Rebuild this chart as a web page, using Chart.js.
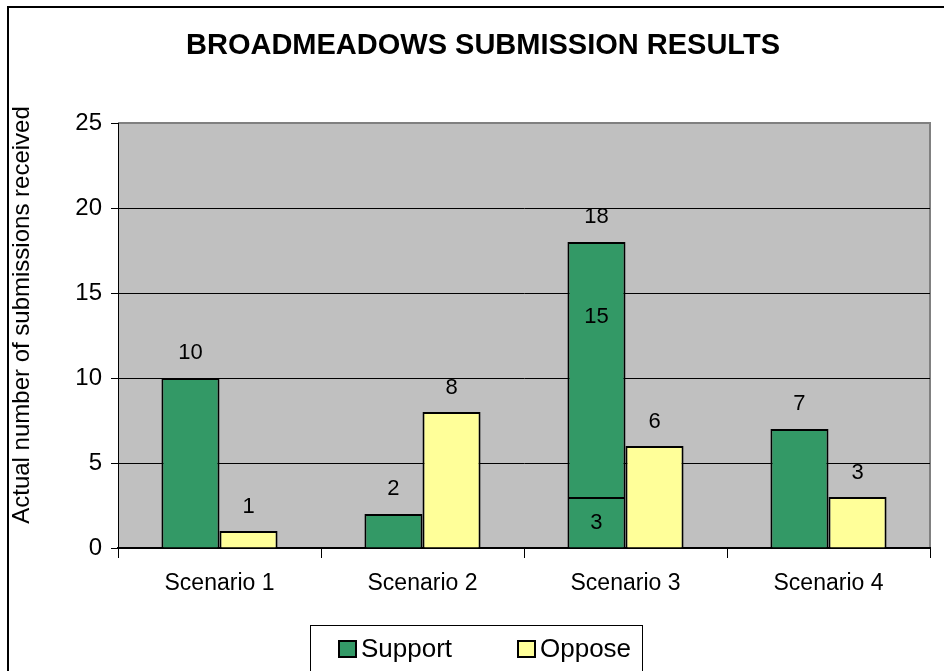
<!DOCTYPE html>
<html>
<head>
<meta charset="utf-8">
<script src="https://cdn.jsdelivr.net/npm/chart.js@4.4.0/dist/chart.umd.min.js"></script>
<style>
  body { margin: 0; background: #ffffff; }
  canvas { display: block; }
</style>
</head>
<body>
<canvas id="myChart" width="944" height="671"></canvas>
<script>
const categorias = ["Scenario 1", "Scenario 2", "Scenario 3", "Scenario 4"];
// Support is split in scenario 3 (3 + 15 = 18)
const apoyo = [10, 2, 3, 7];
const apoyoExtra = [null, null, 15, null];
const oposicion = [1, 8, 6, 3];
const ticksY = [0, 5, 10, 15, 20, 25];

const titulo = "BROADMEADOWS SUBMISSION RESULTS";
const tituloY = "Actual number of submissions received";

const FUENTE = "'Liberation Sans', Arial, sans-serif";
const VERDE = "#339966";
const AMARILLO = "#FFFF99";

// fondo gris del área de trazado + marco exterior + títulos
const fondoPlugin = {
    id: 'fondo',
    beforeDraw(chart) {
        const ctx = chart.ctx;
        const a = chart.chartArea;
        ctx.save();
        ctx.fillStyle = "#ffffff";
        ctx.fillRect(0, 0, chart.width, chart.height);
        ctx.fillStyle = "#C0C0C0";
        ctx.fillRect(a.left, a.top, a.right - a.left, a.bottom - a.top);
        ctx.strokeStyle = "#808080";
        ctx.lineWidth = 2;
        ctx.beginPath();
        ctx.moveTo(a.left, a.top);
        ctx.lineTo(a.right, a.top);
        ctx.lineTo(a.right, a.bottom);
        ctx.stroke();

        // marco exterior
        ctx.strokeStyle = "#000000";
        ctx.lineWidth = 2;
        ctx.beginPath();
        ctx.moveTo(8, chart.height);
        ctx.lineTo(8, 7);
        ctx.lineTo(chart.width, 7);
        ctx.stroke();

        // título
        ctx.fillStyle = "#000000";
        ctx.font = "bold 29px " + FUENTE;
        ctx.textAlign = "center";
        ctx.textBaseline = "middle";
        ctx.fillText(titulo, 483, 46);

        // título eje Y
        ctx.translate(22, 315);
        ctx.rotate(-Math.PI / 2);
        ctx.font = "24px " + FUENTE;
        ctx.fillText(tituloY, 0, 0);
        ctx.restore();
    }
};

// etiquetas de valores
const etiquetasPlugin = {
    id: 'etiquetas',
    afterDatasetsDraw(chart) {
        const ctx = chart.ctx;
        const yScale = chart.scales.y;
        ctx.save();
        ctx.fillStyle = "#000000";
        ctx.font = "22px " + FUENTE;
        ctx.textAlign = "center";
        ctx.textBaseline = "middle";
        const base = chart.getDatasetMeta(0).data;
        const opo = chart.getDatasetMeta(2).data;
        categorias.forEach((c, i) => {
            const total = apoyo[i] + (apoyoExtra[i] || 0);
            const x = base[i].x;
            ctx.fillText(String(total), x, yScale.getPixelForValue(total) - 25);
            if (apoyoExtra[i]) {
                ctx.fillText(String(apoyoExtra[i]), x, yScale.getPixelForValue(total) + 75);
                ctx.fillText(String(apoyo[i]), x, yScale.getPixelForValue(apoyo[i] / 2));
            }
            ctx.fillText(String(oposicion[i]), opo[i].x, yScale.getPixelForValue(oposicion[i]) - 24);
        });
        ctx.restore();
    }
};

// leyenda con recuadro
const leyendaPlugin = {
    id: 'leyenda',
    afterDraw(chart) {
        const ctx = chart.ctx;
        ctx.save();
        ctx.strokeStyle = "#000000";
        ctx.lineWidth = 1;
        ctx.strokeRect(310.5, 625.5, 332, 80);
        const items = chart.data.datasets.filter(d => !d.ocultarLeyenda);
        const posX = [339, 518];
        ctx.font = "26px " + FUENTE;
        ctx.textBaseline = "middle";
        ctx.textAlign = "left";
        items.forEach((d, i) => {
            ctx.fillStyle = d.backgroundColor;
            ctx.fillRect(posX[i], 641, 17, 16);
            ctx.lineWidth = 2;
            ctx.strokeRect(posX[i], 641, 17, 16);
            ctx.fillStyle = "#000000";
            ctx.fillText(d.label, posX[i] + 22, 650);
        });
        ctx.restore();
    }
};

const ctx = document.getElementById("myChart").getContext("2d");
const myChart = new Chart(ctx, {
    type: "bar",
    data: {
        labels: categorias,
        datasets: [
            { label: "Support", data: apoyo, stack: "s", backgroundColor: VERDE },
            { label: "Support", data: apoyoExtra, stack: "s", backgroundColor: VERDE, ocultarLeyenda: true },
            { label: "Oppose", data: oposicion, stack: "o", backgroundColor: AMARILLO }
        ]
    },
    options: {
        responsive: false,
        animation: false,
        layout: { padding: { left: 0, top: 123, right: 14, bottom: 0 } },
        datasets: {
            bar: {
                borderColor: "#000000",
                borderWidth: 2,
                categoryPercentage: 0.572,
                barPercentage: 1.0
            }
        },
        plugins: {
            legend: { display: false },
            title: { display: false },
            tooltip: { enabled: false }
        },
        scales: {
            x: {
                stacked: true,
                afterFit: (scale) => { scale.height = 123; },
                grid: {
                    offset: true,
                    drawOnChartArea: false,
                    color: "#000000",
                    tickLength: 10
                },
                border: { color: "#000000", width: 2 },
                ticks: {
                    color: "#000000",
                    font: { family: FUENTE, size: 23 },
                    padding: 12
                }
            },
            y: {
                stacked: true,
                min: 0,
                max: 25,
                afterFit: (scale) => { scale.width = 118; },
                afterBuildTicks: (scale) => { scale.ticks = ticksY.map(v => ({ value: v })); },
                grid: {
                    color: (c) => (c.tick && c.tick.value === 25) ? "#808080" : (c.tick && c.tick.value === 0 ? "rgba(0,0,0,0)" : "#000000"),
                    lineWidth: 1,
                    tickColor: "#000000",
                    tickLength: 7
                },
                border: { color: "#000000", width: 1 },
                ticks: {
                    color: "#000000",
                    font: { family: FUENTE, size: 24 },
                    padding: 9
                }
            }
        }
    },
    plugins: [fondoPlugin, etiquetasPlugin, leyendaPlugin]
});
</script>
</body>
</html>
